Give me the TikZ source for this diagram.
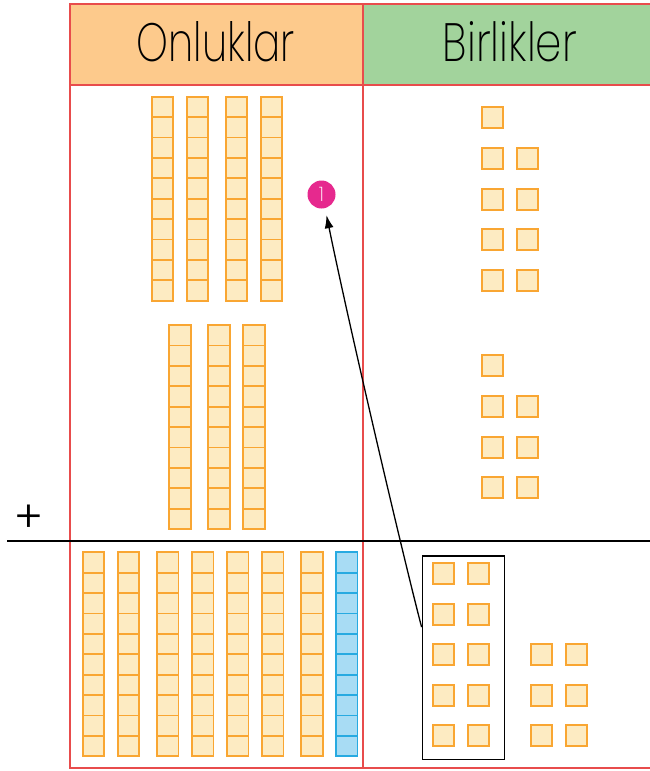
\documentclass[tikz,border=0pt]{standalone}
\usepackage{fontspec}
\setmainfont{Poppins Light}
\newfontfamily\headfont{Poppins ExtraLight}
\usetikzlibrary{arrows.meta,calc}

\definecolor{tenfill}{HTML}{FDEBC2}
\definecolor{tenline}{HTML}{F9A632}
\definecolor{bluefill}{HTML}{A8DCF4}
\definecolor{blueline}{HTML}{27AAE1}
\definecolor{headorange}{HTML}{FDCA8C}
\definecolor{headgreen}{HTML}{A2D39C}
\definecolor{tableline}{HTML}{E84C4C}
\definecolor{badgepink}{HTML}{E6298E}

\tikzset{
  tencell/.style={draw=tenline, fill=tenfill, line width=1.8pt},
  bluecell/.style={draw=blueline, fill=bluefill, line width=1.8pt},
  onecell/.style={draw=tenline, fill=tenfill, line width=1.8pt},
  headtext/.style={anchor=base, inner sep=0pt, font=\headfont},
  badge/.style={circle, fill=badgepink, text=white, minimum size=28pt, inner sep=0pt,
    font=\headfont\fontsize{20}{20}\selectfont},
  carrybox/.style={draw=black, line width=1.4pt, inner sep=0pt},
}

% one rod of ten cells: x, top y, style
\newcommand{\tenrod}[3]{%
  \fill[#3, draw=none] (#1,#2) rectangle ++(21.5,204);
  \foreach \k in {0,...,9} {\draw[#3, fill=none] (#1,#2+\k*20.4) rectangle ++(21.5,20.4);}}
% one unit cube: x, top y
\newcommand{\unitcube}[2]{\draw[onecell] (#1,#2) rectangle ++(21,21);}

\begin{document}
\begin{tikzpicture}[x=1pt, y=-1pt]
    \useasboundingbox (0,0) rectangle (649,771);
    % table head
    \fill[headorange] (70,4) rectangle (363,85);
    \fill[headgreen] (363,4) rectangle (657,85);
    \draw[tableline, line width=1.4pt] (657,4) -- (70,4) -- (70,768) -- (657,768);
    \draw[tableline, line width=1.4pt] (70,85) -- (657,85) (363,4) -- (363,768);
    \node[headtext] (tens) at (215.8,61.7) {\resizebox{158pt}{40pt}{Onluklar}};
    \node[headtext] (ones) at (510,61.7) {\resizebox{134pt}{40pt}{Birlikler}};

    % first addend
    \foreach \x in {151.7,186.7,225.7,260.7} {\tenrod{\x}{96.7}{tencell}}
    \unitcube{482}{107.3}
    \foreach \y in {148,188.7,229,269.7} {\unitcube{482}{\y}\unitcube{517}{\y}}

    % second addend
    \foreach \x in {169.3,208.3,243.3} {\tenrod{\x}{325}{tencell}}
    \unitcube{482}{355.3}
    \foreach \y in {396,436.7,477} {\unitcube{482}{\y}\unitcube{517}{\y}}

    % sum line
    \node[font=\fontsize{44}{44}\selectfont, inner sep=0pt] (plus) at (28.5,519) {+};
    \draw[line width=2.4pt] (7,541) -- (657,541);

    % result
    \foreach \x in {82.7,117.7,157,192,227,262,301.3} {\tenrod{\x}{552.3}{tencell}}
    \tenrod{336}{552.3}{bluecell}
    \foreach \y in {563.3,603.7,644.3,684.7,725.3} {\unitcube{433}{\y}\unitcube{468.3}{\y}}
    \foreach \y in {644.3,684.7,725.3} {\unitcube{530.7}{\y}\unitcube{566}{\y}}

    % carried ten
    \node[carrybox, minimum width=82.4pt, minimum height=203.7pt] (carry) at (463.5,657.85) {};
    \node[badge] (one) at (321.5,194.5) {1};
    \coordinate (foot) at ($(carry.north west)!0.35!(carry.south west)$);
    \coordinate (tip) at ($(one.south)+(5,6.5)$);
    \draw[-{Latex[length=13pt,width=9pt]}, line width=1.3pt]
        (foot) .. controls (404,560) and (350,330) .. (tip);
\end{tikzpicture}
\end{document}
